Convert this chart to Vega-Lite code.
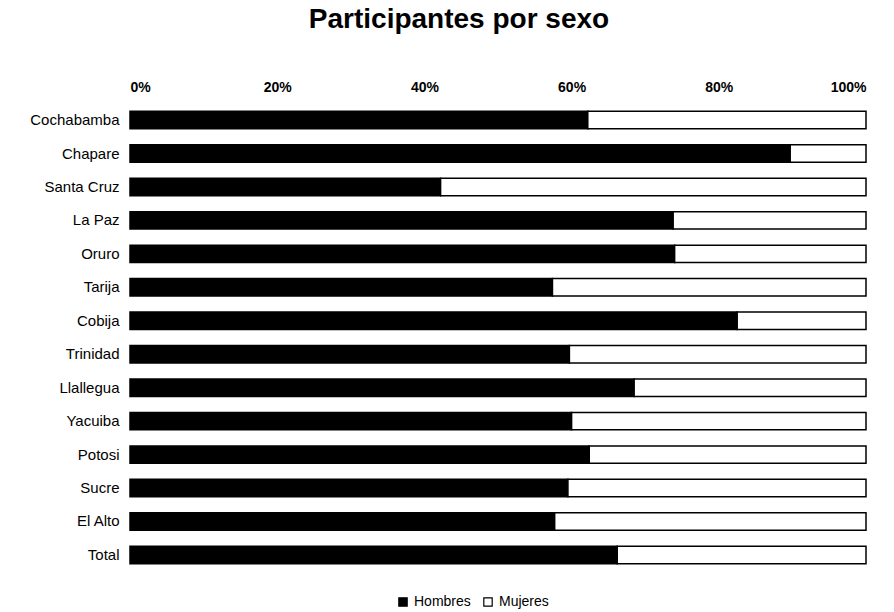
{
  "$schema": "https://vega.github.io/schema/vega-lite/v6.json",
  "autosize": "none",
  "width": 736,
  "height": 469,
  "padding": {"left": 130, "top": 103, "right": 28, "bottom": 40},
  "background": "white",
  "title": {
    "text": "Participantes por sexo",
    "font": "Liberation Sans",
    "fontSize": 28,
    "fontWeight": "bold",
    "color": "black",
    "anchor": "middle",
    "offset": 46,
    "dx": -39
  },
  "data": {
    "values": [
      {"region": "Cochabamba", "sexo": "Hombres", "orden": 1, "pct": 62.2},
      {"region": "Cochabamba", "sexo": "Mujeres", "orden": 2, "pct": 37.8},
      {"region": "Chapare", "sexo": "Hombres", "orden": 1, "pct": 89.7},
      {"region": "Chapare", "sexo": "Mujeres", "orden": 2, "pct": 10.3},
      {"region": "Santa Cruz", "sexo": "Hombres", "orden": 1, "pct": 42.2},
      {"region": "Santa Cruz", "sexo": "Mujeres", "orden": 2, "pct": 57.8},
      {"region": "La Paz", "sexo": "Hombres", "orden": 1, "pct": 73.8},
      {"region": "La Paz", "sexo": "Mujeres", "orden": 2, "pct": 26.2},
      {"region": "Oruro", "sexo": "Hombres", "orden": 1, "pct": 74.0},
      {"region": "Oruro", "sexo": "Mujeres", "orden": 2, "pct": 26.0},
      {"region": "Tarija", "sexo": "Hombres", "orden": 1, "pct": 57.4},
      {"region": "Tarija", "sexo": "Mujeres", "orden": 2, "pct": 42.6},
      {"region": "Cobija", "sexo": "Hombres", "orden": 1, "pct": 82.5},
      {"region": "Cobija", "sexo": "Mujeres", "orden": 2, "pct": 17.5},
      {"region": "Trinidad", "sexo": "Hombres", "orden": 1, "pct": 59.7},
      {"region": "Trinidad", "sexo": "Mujeres", "orden": 2, "pct": 40.3},
      {"region": "Llallegua", "sexo": "Hombres", "orden": 1, "pct": 68.5},
      {"region": "Llallegua", "sexo": "Mujeres", "orden": 2, "pct": 31.5},
      {"region": "Yacuiba", "sexo": "Hombres", "orden": 1, "pct": 60.0},
      {"region": "Yacuiba", "sexo": "Mujeres", "orden": 2, "pct": 40.0},
      {"region": "Potosi", "sexo": "Hombres", "orden": 1, "pct": 62.4},
      {"region": "Potosi", "sexo": "Mujeres", "orden": 2, "pct": 37.6},
      {"region": "Sucre", "sexo": "Hombres", "orden": 1, "pct": 59.5},
      {"region": "Sucre", "sexo": "Mujeres", "orden": 2, "pct": 40.5},
      {"region": "El Alto", "sexo": "Hombres", "orden": 1, "pct": 57.7},
      {"region": "El Alto", "sexo": "Mujeres", "orden": 2, "pct": 42.3},
      {"region": "Total", "sexo": "Hombres", "orden": 1, "pct": 66.2},
      {"region": "Total", "sexo": "Mujeres", "orden": 2, "pct": 33.8}
    ]
  },
  "mark": {"type": "bar", "stroke": "black", "strokeWidth": 1.5},
  "encoding": {
    "y": {
      "field": "region",
      "type": "nominal",
      "sort": null,
      "scale": {"paddingInner": 0.48, "paddingOuter": 0.25},
      "axis": {
        "title": null,
        "domain": false,
        "ticks": false,
        "labelFont": "Liberation Sans",
        "labelFontSize": 15,
        "labelColor": "black",
        "labelPadding": 11
      }
    },
    "x": {
      "field": "pct",
      "type": "quantitative",
      "stack": "normalize",
      "axis": {
        "orient": "top",
        "title": null,
        "format": ".0%",
        "values": [0, 0.2, 0.4, 0.6, 0.8, 1],
        "domain": false,
        "ticks": false,
        "grid": false,
        "labelFont": "Liberation Sans",
        "labelFontSize": 14,
        "labelFontWeight": "bold",
        "labelColor": "black",
        "labelPadding": 9
      }
    },
    "color": {
      "field": "sexo",
      "type": "nominal",
      "scale": {"domain": ["Hombres", "Mujeres"], "range": ["black", "white"]},
      "legend": {
        "orient": "none",
        "legendX": 266,
        "legendY": 492,
        "direction": "horizontal",
        "title": null,
        "symbolType": "square",
        "symbolSize": 70,
        "symbolStrokeColor": "black",
        "symbolStrokeWidth": 1.2,
        "labelFont": "Liberation Sans",
        "labelFontSize": 14,
        "labelColor": "black",
        "columnPadding": 10
      }
    },
    "order": {"field": "orden", "type": "quantitative"}
  },
  "config": {"view": {"stroke": null}}
}
